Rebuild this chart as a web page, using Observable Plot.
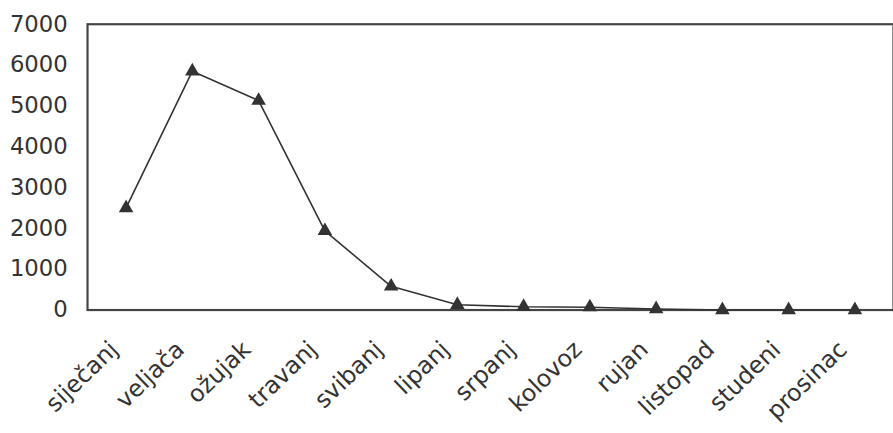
<!DOCTYPE html>
<html>
<head>
<meta charset="utf-8">
<script src="https://cdn.jsdelivr.net/npm/d3@7"></script>
<script src="https://cdn.jsdelivr.net/npm/@observablehq/plot@0.6"></script>
<style>
  html, body { margin: 0; padding: 0; background: #fff; overflow: hidden; }
  #chart { width: 893px; height: 433px; overflow: hidden; }
</style>
</head>
<body>
<div id="chart"></div>
<script>
const months = ["siječanj", "veljača", "ožujak", "travanj", "svibanj", "lipanj", "srpanj", "kolovoz", "rujan", "listopad", "studeni", "prosinac"];
const values = [2500, 5850, 5130, 1940, 580, 130, 80, 70, 25, 0, 0, 0];
const yTicks = [0, 1000, 2000, 3000, 4000, 5000, 6000, 7000];

const data = months.map((m, i) => ({month: m, value: values[i]}));

const chart = Plot.plot({
  width: 903,
  height: 433,
  marginLeft: 88,
  marginRight: 0,
  marginTop: 24,
  marginBottom: 120,
  style: {fontFamily: "'DejaVu Sans', sans-serif", color: "#333", background: "#fff"},
  x: {type: "point", domain: months, padding: 0.5, label: null},
  y: {domain: [0, 7000], label: null},
  marks: [
    Plot.frame({stroke: "#444", strokeWidth: 2.2}),
    Plot.axisY({ticks: yTicks, tickSize: 0, tickPadding: 20, fontSize: 23, label: null, tickFormat: d => String(d)}),
    Plot.axisX({tickSize: 0, tickPadding: 36, tickRotate: -44, fontSize: 24, dx: -12, label: null}),
    Plot.line(data, {x: "month", y: "value", stroke: "#333", strokeWidth: 1.6}),
    Plot.dot(data, {x: "month", y: "value", symbol: "triangle", r: 4.5, fill: "#333", stroke: "#333"})
  ]
});
document.getElementById("chart").appendChild(chart);
</script>
</body>
</html>
